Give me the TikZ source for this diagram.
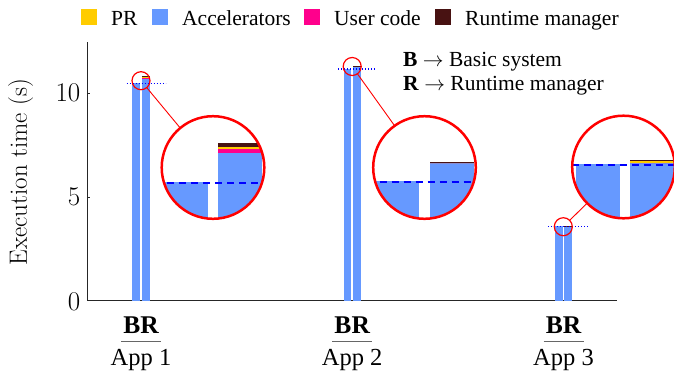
\documentclass[tikz,border=0pt]{standalone}
\usepackage{fontspec}
\newfontfamily\tms{Liberation Serif}
\definecolor{accel}{RGB}{102,153,255}
\definecolor{ucode}{RGB}{255,0,140}
\definecolor{prc}{RGB}{255,204,0}
\definecolor{rtm}{RGB}{72,18,18}
\newcommand\barpair[6]{%
 \fill[accel] (#1-8.6,300.5) rectangle (#1-0.9,#2);
 \fill[accel] (#1+0.9,300.5) rectangle (#1+8.6,#3);
 \fill[ucode] (#1+0.9,#3) rectangle (#1+8.6,#4);
 \fill[prc] (#1+0.9,#4) rectangle (#1+8.6,#5);
 \fill[rtm] (#1+0.9,#5) rectangle (#1+8.6,#6);
}
\newcommand\appone{\barpair{141}{83.3}{78.2}{77.5}{77.16}{76.45}%
 \draw[refline] (126.7,83.4) -- (165.7,83.4);}
\newcommand\apptwo{\barpair{352.2}{68.9}{65.76}{65.76}{65.76}{65.6}%
 \draw[refline] (338,69) -- (376.7,69);}
\newcommand\appthree{\barpair{563.5}{226.1}{225.95}{225.95}{225.6}{225.5}%
 \draw[refline] (548,226.35) -- (588,226.35);}
\tikzset{
 spyon/.style={circle, draw=red, line width=1.2pt, minimum size=18pt, inner sep=0pt, outer sep=0pt},
 spyin/.style={circle, fill=white, minimum size=102.6pt, inner sep=0pt, outer sep=0pt},
 spyring/.style={draw=red, line width=2.5pt},
 conn/.style={red, line width=0.9pt},
 refline/.style={blue, line width=1.3pt, dash pattern=on 1.3pt off 1.7pt},
 bigref/.style={blue, line width=1.7pt, dash pattern=on 7pt off 5pt},
 axisline/.style={black!85, line width=0.9pt},
 ticklab/.style={anchor=east, inner sep=0pt, font=\fontsize{27}{27}\selectfont},
 legsq/.style={minimum size=16pt, inner sep=0pt, outer sep=0pt},
 legtxt/.style={anchor=base west, inner sep=0pt, font=\tms\fontsize{21.5}{21.5}\selectfont},
 keytxt/.style={anchor=base west, inner sep=0pt, font=\tms\fontsize{21.5}{21.5}\selectfont},
 brlab/.style={anchor=base, inner sep=0pt, font=\tms\bfseries\fontsize{25.5}{25.5}\selectfont},
 applab/.style={anchor=base, inner sep=0pt, font=\tms\fontsize{24.5}{24.5}\selectfont},
 uline/.style={black!60, line width=0.9pt},
}
\begin{document}
\begin{tikzpicture}[x=1pt,y=-1pt]
\useasboundingbox (0,0) rectangle (674,375);
% axes
\draw[axisline] (87.5,42) -- (87.5,300.5) -- (617,300.5);
\draw[axisline] (87.5,93) -- (90,93);
\draw[axisline] (87.5,197) -- (90,197);
\node[ticklab] (t10) at (80.5,93) {10};
\node[ticklab] (t5) at (80.5,197) {5};
\node[ticklab] (t0) at (80.5,301.5) {0};
\node[rotate=90, anchor=base, inner sep=0pt, font=\fontsize{25}{25}\selectfont] (ylab) at (27,172) {Execution time (s)};
% bars
\appone
\apptwo
\appthree
% x labels
\foreach \c/\n in {141/1, 352.2/2, 563.5/3}{
 \node[brlab] (br\n) at (\c,333) {BR};
 \draw[uline] (\c-20,341.5) -- (\c+20,341.5);
 \node[applab] (app\n) at (\c,365) {App \n};
}
% legend
\node[legsq, fill=prc] (lq1) at (89,17) {};
\node[legtxt] (lt1) at (111,25) {PR};
\node[legsq, fill=accel] (lq2) at (160,17) {};
\node[legtxt] (lt2) at (182,25) {Accelerators};
\node[legsq, fill=ucode] (lq3) at (312,17) {};
\node[legtxt] (lt3) at (334,25) {User code};
\node[legsq, fill=rtm] (lq4) at (443,17) {};
\node[legtxt] (lt4) at (465,25) {Runtime manager};
% B / R key
\node[keytxt] (k1) at (403,66) {\textbf{B} $\rightarrow$ Basic system};
\node[keytxt] (k2) at (403,90) {\textbf{R} $\rightarrow$ Runtime manager};
% small spy circles
\node[spyon] (s1) at (141,80.7) {};
\node[spyon] (s2) at (352.2,66.5) {};
\node[spyon] (s3) at (563.3,226.7) {};
% big view 1
\node[spyin] (b1) at (213,167.5) {};
\begin{scope}
 \clip (b1.center) circle (51.3pt);
 \begin{scope}[shift={(213,167.5)}, scale=5.7, shift={(-141,-80.7)}, refline/.style={bigref}]
  \appone
 \end{scope}
\end{scope}
\draw[spyring] (b1.center) circle (51.3pt);
\draw[conn] (s1) -- (b1);
% big view 2
\node[spyin] (b2) at (424.5,167.5) {};
\begin{scope}
 \clip (b2.center) circle (51.3pt);
 \begin{scope}[shift={(424.5,167.5)}, scale=5.7, shift={(-352.2,-66.5)}, refline/.style={bigref}]
  \apptwo
 \end{scope}
\end{scope}
\draw[spyring] (b2.center) circle (51.3pt);
\draw[conn] (s2) -- (b2);
% big view 3
\node[spyin] (b3) at (623.5,167) {};
\begin{scope}
 \clip (b3.center) circle (51.3pt);
 \begin{scope}[shift={(623.5,167)}, scale=5.7, shift={(-563.3,-226.7)}, refline/.style={bigref}]
  \appthree
 \end{scope}
\end{scope}
\draw[spyring] (b3.center) circle (51.3pt);
\draw[conn] (s3) -- (b3);
\end{tikzpicture}
\end{document}
